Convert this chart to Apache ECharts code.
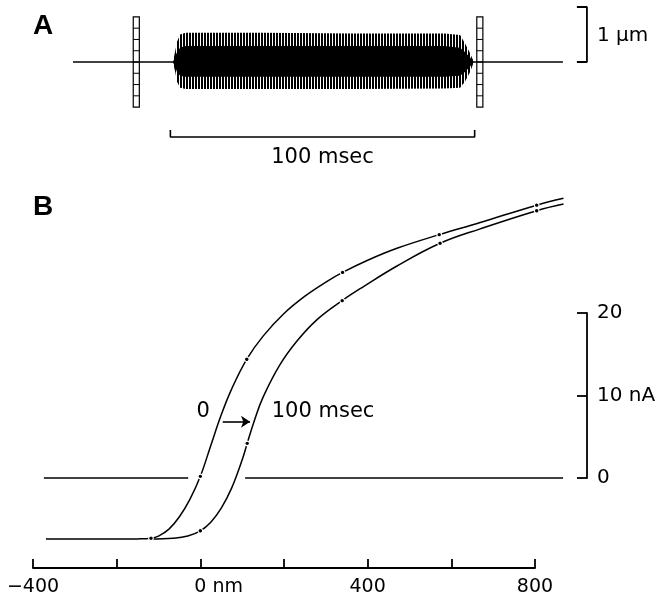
<!DOCTYPE html>
<html>
<head>
<meta charset="utf-8">
<script src="https://cdn.jsdelivr.net/npm/echarts@6/dist/echarts.min.js"></script>
<style>html,body{margin:0;padding:0;background:#fff}#c{width:661px;height:602px}</style>
</head>
<body>
<div id="c"></div>
<script>
// ---------- Panel A data (time in msec, displacement in µm) ----------
const traceLine = [[-32, 0], [129, 0]];
const envTime  = [0.9, 1.6, 2.2, 3.2, 5, 30, 60, 90, 95.2, 96.8, 98.5, 99.6];
const envUpper = [0.02, 0.2, 0.37, 0.5, 0.53, 0.53, 0.52, 0.52, 0.49, 0.34, 0.16, 0.02];
const envLower = [-0.02, -0.18, -0.36, -0.47, -0.49, -0.49, -0.49, -0.48, -0.47, -0.36, -0.18, -0.02];
const coreUpper = [0.01, 0.1, 0.18, 0.26, 0.29, 0.29, 0.29, 0.29, 0.26, 0.18, 0.08, 0.01];
const coreLower = [-0.01, -0.1, -0.18, -0.25, -0.27, -0.27, -0.27, -0.27, -0.25, -0.18, -0.08, -0.01];
const ladderTimes = [-11.2, 101.7];
const ladderHalf = 0.82;
const ladderWidth = 2;
const ladderCells = 8;
const umBar = [[133.6, 1], [136.9, 1], [136.9, 0], [133.6, 0]];
const msBar = [[0, -1.236], [0, -1.364], [100, -1.364], [100, -1.236]];
const umLabel = [{ name: '1 µm', value: [140.2, 0.48] }];
const msLabel = [{ name: '100 msec', value: [50, -1.73] }];

// ---------- Panel B data (position in nm, current in nA) ----------
const xLabelsB = { '-400': '−400', '0': '0 nm', '400': '400', '800': '800' };
const yLabelsB = { '0': '0', '10': '10 nA', '20': '20' };
const zeroLeft = [[-374, 0], [-29, 0]];
const zeroRight = [[107, 0], [867, 0]];
const curve0 = [[-369, -7.4], [-200, -7.4], [-150, -7.38], [-118, -7.3], [-100, -7.05], [-75, -6.2], [-50, -4.7],
  [-25, -2.6], [0, 0.2], [25, 3.95], [50, 7.66], [75, 10.8], [111, 14.4], [150, 17.2], [200, 19.94], [250, 22.04],
  [300, 23.74], [340, 24.92], [400, 26.4], [470, 27.85], [571, 29.5], [669, 30.97], [804, 33.07], [868, 33.9]];
const curve100 = [[-120, -7.4], [-65, -7.3], [-30, -7.03], [0, -6.4], [25, -5.35], [50, -3.65], [75, -1.2],
  [100, 2.2], [112, 4.2], [130, 7.1], [150, 9.8], [190, 13.7], [231, 16.6], [279, 19.2], [339, 21.5], [390, 23.2],
  [470, 25.7], [573, 28.45], [669, 30.2], [804, 32.4], [868, 33.2]];
const dots0 = [[-118, -7.3], [0, 0.2], [111, 14.4], [340, 24.92], [571, 29.5], [804, 33.07]];
const dots100 = [[0, -6.4], [112, 4.2], [339, 21.5], [573, 28.45], [804, 32.4]];
const labelZero = [{ name: '0', value: [6.5, 8.0] }];
const label100 = [{ name: '100 msec', value: [170.7, 8.0] }];
const arrowFrom = [53.5, 6.82];
const arrowTo = [118.8, 6.82];

const FONT = 'DejaVu Sans';
const BLACK = '#000';

// stripe pattern for the oscillation edges
const pc = document.createElement('canvas');
pc.width = 3; pc.height = 4;
const g = pc.getContext('2d');
g.fillStyle = '#fff'; g.fillRect(0, 0, 3, 4);
g.fillStyle = '#000'; g.fillRect(0, 0, 2, 4);
const stripe = { image: pc, repeat: 'repeat' };

function band(times, up, lo, fill) {
  return function (params, api) {
    if (params.dataIndex !== 0) return null;
    const pts = [];
    for (let i = 0; i < times.length; i++) pts.push(api.coord([times[i], up[i]]));
    for (let i = times.length - 1; i >= 0; i--) pts.push(api.coord([times[i], lo[i]]));
    return { type: 'polygon', shape: { points: pts }, style: { fill: fill } };
  };
}

function ladder(params, api) {
  const t = api.value(0);
  const top = api.coord([t, ladderHalf]);
  const bot = api.coord([t, -ladderHalf]);
  const w = api.size([ladderWidth, 0])[0];
  const x0 = top[0] - w / 2;
  const children = [{
    type: 'rect',
    shape: { x: x0, y: top[1], width: w, height: bot[1] - top[1] },
    style: { fill: 'transparent', stroke: BLACK, lineWidth: 1.2 }
  }];
  for (let k = 1; k < ladderCells; k++) {
    const y = top[1] + (bot[1] - top[1]) * k / ladderCells;
    children.push({ type: 'line', shape: { x1: x0, y1: y, x2: x0 + w, y2: y }, style: { stroke: BLACK, lineWidth: 1 } });
  }
  return { type: 'group', children: children };
}

const lineBase = { type: 'line', symbol: 'none', clip: false, silent: true, animation: false };
const textBase = { type: 'scatter', symbolSize: 0, silent: true, animation: false, clip: false, itemStyle: { opacity: 1 } };
const curveStyle = { smooth: 0.4, lineStyle: { color: BLACK, width: 1.5 } };

const chart = echarts.init(document.getElementById('c'));
chart.setOption({
  backgroundColor: '#fff',
  animation: false,
  title: [
    { text: 'A', left: 33, top: 12, padding: 0, textStyle: { fontFamily: 'Liberation Sans', fontWeight: 'bold', fontSize: 28, color: BLACK } },
    { text: 'B', left: 33, top: 193, padding: 0, textStyle: { fontFamily: 'Liberation Sans', fontWeight: 'bold', fontSize: 28, color: BLACK } }
  ],
  grid: [
    { left: 73, top: 7, width: 553.8, height: 165 },
    { left: 33, top: 148, width: 535.5, height: 412.5 },
    { left: 560, top: 313, width: 27, height: 165 },
    { left: 33, top: 558, width: 502, height: 10 }
  ],
  xAxis: [
    { gridIndex: 0, type: 'value', min: -32, max: 150, show: false },
    { gridIndex: 1, type: 'value', min: -400, max: 880, show: false },
    { gridIndex: 2, type: 'value', min: 0, max: 1, show: false },
    {
      gridIndex: 3, type: 'value', min: -400, max: 800, interval: 200, position: 'bottom',
      axisLine: { show: true, onZero: false, lineStyle: { color: BLACK, width: 1.8 } },
      axisTick: { show: true, inside: true, length: 9, lineStyle: { color: BLACK, width: 1.8 } },
      splitLine: { show: false },
      axisLabel: {
        margin: 10, color: BLACK, fontFamily: FONT, fontSize: 19,
        formatter: function (v) {
          const s = xLabelsB[String(v)];
          if (!s) return '';
          if (v === 0) return '{p| }' + s;
          return s;
        },
        rich: { p: { width: 36.6, fontFamily: FONT, fontSize: 19 } }
      }
    }
  ],
  yAxis: [
    { gridIndex: 0, type: 'value', min: -2, max: 1, show: false },
    { gridIndex: 1, type: 'value', min: -10, max: 40, show: false },
    {
      gridIndex: 2, type: 'value', min: 0, max: 20, interval: 10, position: 'right',
      axisLine: { show: true, onZero: false, lineStyle: { color: BLACK, width: 1.8 } },
      axisTick: { show: true, inside: true, length: 10, lineStyle: { color: BLACK, width: 1.8 } },
      splitLine: { show: false },
      axisLabel: {
        margin: 10, color: BLACK, fontFamily: FONT, fontSize: 20,
        formatter: function (v) { return yLabelsB[String(v)] || ''; }
      }
    },
    { gridIndex: 3, type: 'value', min: 0, max: 1, show: false }
  ],
  series: [
    // ----- Panel A -----
    Object.assign({}, lineBase, { xAxisIndex: 0, yAxisIndex: 0, data: traceLine, lineStyle: { color: BLACK, width: 1.4 } }),
    {
      type: 'custom', xAxisIndex: 0, yAxisIndex: 0, silent: true, animation: false,
      data: envTime.map(function (t) { return [t]; }),
      renderItem: band(envTime, envUpper, envLower, stripe), z: 3
    },
    {
      type: 'custom', xAxisIndex: 0, yAxisIndex: 0, silent: true, animation: false,
      data: envTime.map(function (t) { return [t]; }),
      renderItem: band(envTime, coreUpper, coreLower, BLACK), z: 4
    },
    {
      type: 'custom', xAxisIndex: 0, yAxisIndex: 0, silent: true, animation: false,
      data: ladderTimes.map(function (t) { return [t]; }), renderItem: ladder, z: 5
    },
    Object.assign({}, lineBase, { xAxisIndex: 0, yAxisIndex: 0, data: umBar, lineStyle: { color: BLACK, width: 1.8 } }),
    Object.assign({}, lineBase, { xAxisIndex: 0, yAxisIndex: 0, data: msBar, lineStyle: { color: BLACK, width: 1.6 } }),
    Object.assign({}, textBase, {
      xAxisIndex: 0, yAxisIndex: 0, data: umLabel,
      label: { show: true, position: 'right', distance: 0, formatter: '{b}', color: BLACK, fontFamily: FONT, fontSize: 20 }
    }),
    Object.assign({}, textBase, {
      xAxisIndex: 0, yAxisIndex: 0, data: msLabel,
      label: { show: true, position: 'inside', formatter: '{b}', color: BLACK, fontFamily: FONT, fontSize: 21 }
    }),
    // ----- Panel B -----
    Object.assign({}, lineBase, { xAxisIndex: 1, yAxisIndex: 1, data: zeroLeft, lineStyle: { color: BLACK, width: 1.3 } }),
    Object.assign({}, lineBase, { xAxisIndex: 1, yAxisIndex: 1, data: zeroRight, lineStyle: { color: BLACK, width: 1.3 } }),
    Object.assign({}, lineBase, curveStyle, { xAxisIndex: 1, yAxisIndex: 1, data: curve0 }),
    Object.assign({}, lineBase, curveStyle, { xAxisIndex: 1, yAxisIndex: 1, data: curve100 }),
    {
      type: 'scatter', xAxisIndex: 1, yAxisIndex: 1, data: dots0.concat(dots100), symbol: 'circle', symbolSize: 4.6,
      itemStyle: { color: BLACK, borderColor: '#fff', borderWidth: 1.2, opacity: 1 }, silent: true, animation: false, clip: false, z: 5
    },
    Object.assign({}, textBase, {
      xAxisIndex: 1, yAxisIndex: 1, data: labelZero,
      label: { show: true, position: 'inside', formatter: '{b}', color: BLACK, fontFamily: FONT, fontSize: 21 }
    }),
    Object.assign({}, textBase, {
      xAxisIndex: 1, yAxisIndex: 1, data: label100,
      label: { show: true, position: 'right', distance: 0, formatter: '{b}', color: BLACK, fontFamily: FONT, fontSize: 21 },
      markLine: {
        silent: true, animation: false, symbol: ['none', 'arrow'], symbolSize: 9,
        label: { show: false },
        lineStyle: { color: BLACK, width: 1.6, type: 'solid' },
        itemStyle: { color: BLACK },
        data: [[{ coord: arrowFrom }, { coord: arrowTo }]]
      }
    })
  ]
});
</script>
</body>
</html>
